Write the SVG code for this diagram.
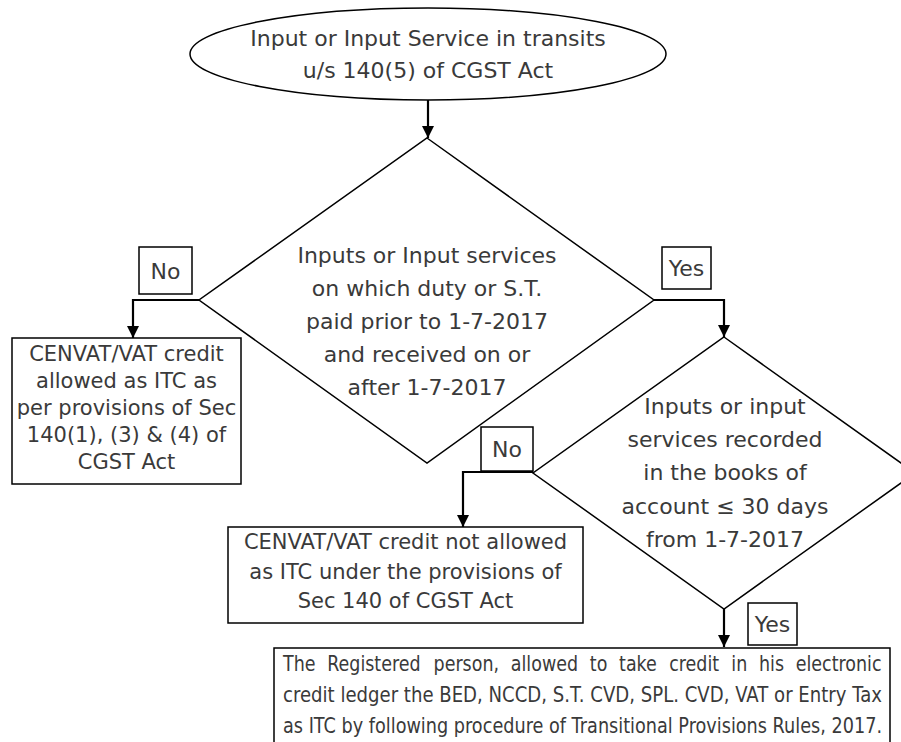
<svg xmlns="http://www.w3.org/2000/svg" width="901" height="742" viewBox="0 0 901 742">
<style>
.shape{fill:#fff;stroke:#000;stroke-width:1.5}
.conn{fill:none;stroke:#000;stroke-width:2.2}
text{font-family:"DejaVu Sans","Liberation Sans",sans-serif;fill:#3a3a3a;text-anchor:middle}
.t22{font-size:22px}
.t21{font-size:21px}
.lbl{font-size:22px}
.just{text-anchor:start;font-size:22px}
</style>
<defs>
<marker id="arr" viewBox="0 0 12 12" refX="12" refY="6" markerWidth="12" markerHeight="12" markerUnits="userSpaceOnUse" orient="auto">
<path d="M0,0 L12,6 L0,12 z" fill="#000"/>
</marker>
</defs>
<rect width="901" height="742" fill="#fff"/>

<g id="connectors">
<path class="conn" d="M428,100 V138" marker-end="url(#arr)"/>
<path class="conn" d="M199,300 H133 V338" marker-end="url(#arr)"/>
<path class="conn" d="M654,300 H724 V337" marker-end="url(#arr)"/>
<path class="conn" d="M533,472 H463 V527" marker-end="url(#arr)"/>
<path class="conn" d="M724,609 V647" marker-end="url(#arr)"/>
</g>

<g id="start">
<ellipse class="shape" cx="428" cy="54" rx="238" ry="46" stroke-width="1.8"/>
<text class="t22" x="428" y="46">Input or Input Service in transits</text>
<text class="t22" x="428" y="78">u/s 140(5) of CGST Act</text>
</g>

<g id="decision1">
<polygon class="shape" points="427,138 654,300 427,463 199,300"/>
<text class="t22" x="427" y="263">Inputs or Input services</text>
<text class="t22" x="427" y="296">on which duty or S.T.</text>
<text class="t22" x="427" y="329">paid prior to 1-7-2017</text>
<text class="t22" x="427" y="362">and received on or</text>
<text class="t22" x="427" y="395">after 1-7-2017</text>
</g>

<g id="label-no1">
<rect class="shape" x="139" y="247" width="53" height="47"/>
<text class="lbl" x="165.5" y="279">No</text>
</g>

<g id="label-yes1">
<rect class="shape" x="662" y="247" width="49" height="42"/>
<text class="lbl" x="686.5" y="276">Yes</text>
</g>

<g id="box-allowed">
<rect class="shape" x="12" y="338" width="229" height="146"/>
<text class="t21" x="126.5" y="361">CENVAT/VAT credit</text>
<text class="t21" x="126.5" y="388">allowed as ITC as</text>
<text class="t21" x="126.5" y="415">per provisions of Sec</text>
<text class="t21" x="126.5" y="442">140(1), (3) &amp; (4) of</text>
<text class="t21" x="126.5" y="469">CGST Act</text>
</g>

<g id="decision2">
<polygon class="shape" points="724,337 915,473 724,609 533,473"/>
<text class="t22" x="725" y="414">Inputs or input</text>
<text class="t22" x="725" y="447">services recorded</text>
<text class="t22" x="725" y="480">in the books of</text>
<text class="t22" x="725" y="514">account ≤ 30 days</text>
<text class="t22" x="725" y="547">from 1-7-2017</text>
</g>

<g id="label-no2">
<rect class="shape" x="481" y="427" width="52" height="44"/>
<text class="lbl" x="507" y="457">No</text>
</g>

<g id="box-not-allowed">
<rect class="shape" x="228" y="527" width="355" height="96"/>
<text class="t21" x="405.5" y="549">CENVAT/VAT credit not allowed</text>
<text class="t21" x="405.5" y="579">as ITC under the provisions of</text>
<text class="t21" x="405.5" y="608">Sec 140 of CGST Act</text>
</g>

<g id="label-yes2">
<rect class="shape" x="748" y="603" width="49" height="42"/>
<text class="lbl" x="772.5" y="632">Yes</text>
</g>

<g id="box-result">
<rect class="shape" x="274" y="648" width="616" height="110"/>
<g transform="translate(283,0) scale(0.795,1)">
<text class="just" y="671"><tspan x="0">The</tspan> <tspan x="55.6">Registered</tspan> <tspan x="189.4">person,</tspan> <tspan x="286.5">allowed</tspan> <tspan x="385.9">to</tspan> <tspan x="422.7">take</tspan> <tspan x="485.8">credit</tspan> <tspan x="563.9">in</tspan> <tspan x="598.7">his</tspan> <tspan x="644.9">electronic</tspan></text>
<text class="just" x="0" y="702" textLength="753.5" lengthAdjust="spacingAndGlyphs">credit ledger the BED, NCCD, S.T. CVD, SPL. CVD, VAT or Entry Tax</text>
<text class="just" x="0" y="733" textLength="753.5" lengthAdjust="spacingAndGlyphs">as ITC by following procedure of Transitional Provisions Rules, 2017.</text>
</g>
</g>
</svg>
